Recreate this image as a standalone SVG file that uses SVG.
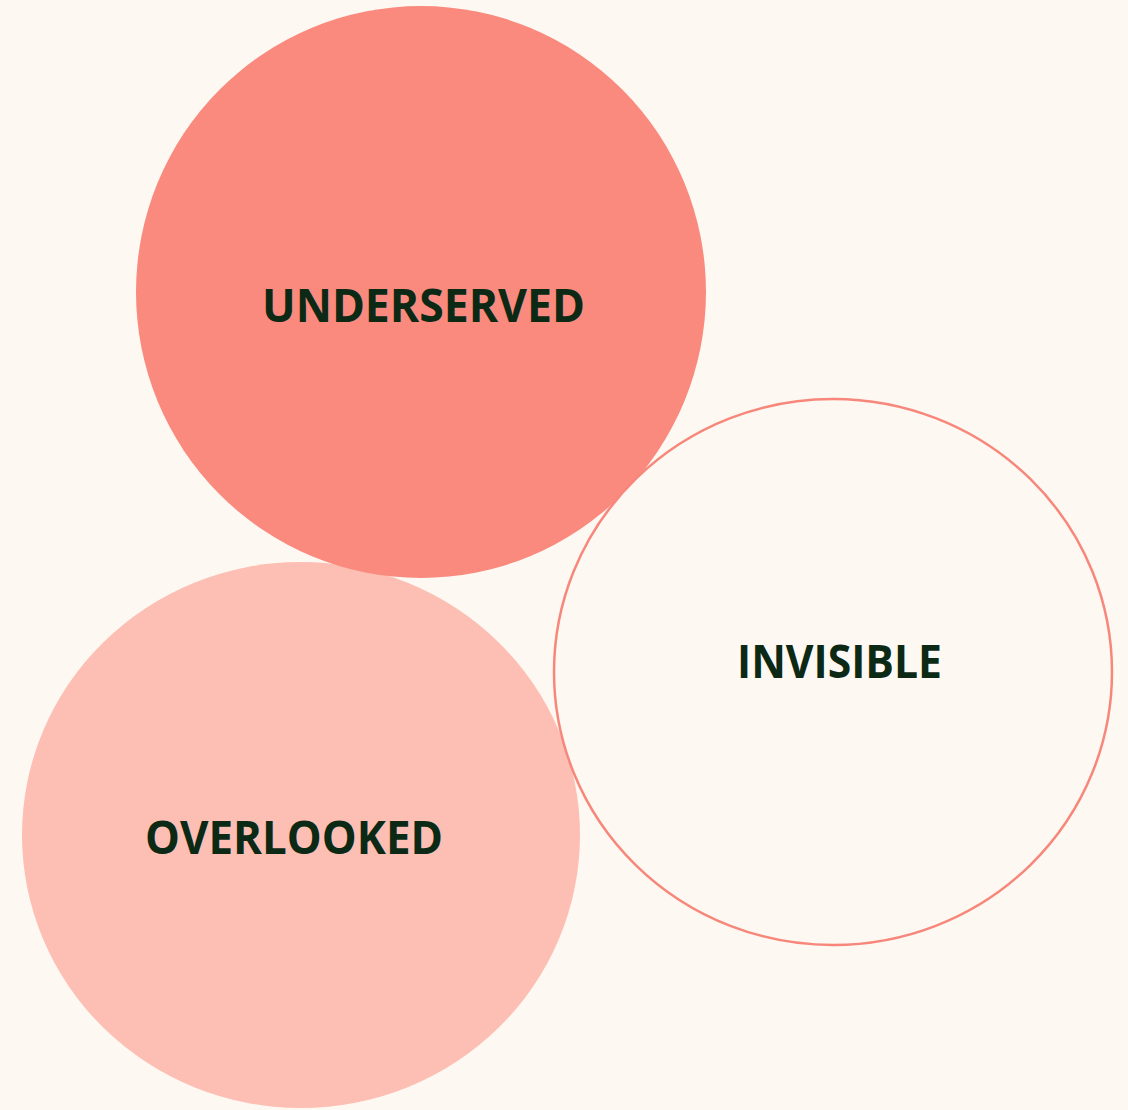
<svg xmlns="http://www.w3.org/2000/svg" width="1128" height="1110" viewBox="0 0 1128 1110">
<style>
.lbl{font-family:"Open Sans","Noto Sans","Liberation Sans",sans-serif;font-weight:700;font-size:46px;fill:#0B2914;text-anchor:middle}
</style>
<rect width="1128" height="1110" fill="#FEF8F2"/>
<g id="overlooked">
<ellipse cx="301" cy="835" rx="279" ry="273" fill="#FDBFB4"/>
<text class="lbl" x="294" y="854" textLength="298" lengthAdjust="spacingAndGlyphs">OVERLOOKED</text>
</g>
<g id="underserved">
<ellipse cx="421" cy="292" rx="285" ry="286" fill="#FA8A7E"/>
<text class="lbl" x="423.5" y="322" textLength="323" lengthAdjust="spacingAndGlyphs">UNDERSERVED</text>
</g>
<g id="invisible">
<ellipse cx="833" cy="672" rx="279" ry="273" fill="#FEF8F2" stroke="#F8877B" stroke-width="2.5"/>
<text class="lbl" x="839.5" y="678" textLength="205" lengthAdjust="spacingAndGlyphs">INVISIBLE</text>
</g>
<g id="connectors"/>
</svg>
